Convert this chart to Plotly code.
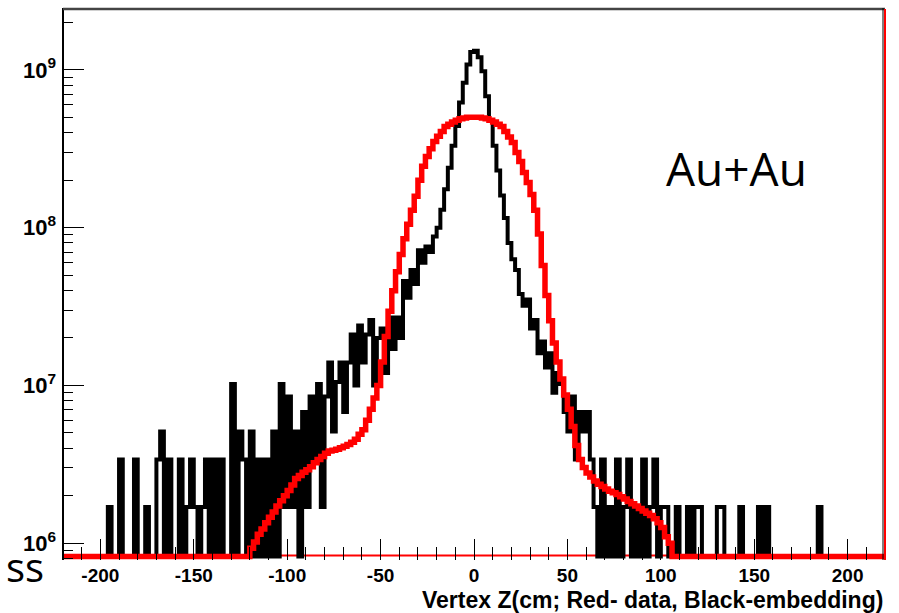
import plotly.graph_objects as go

# ---------------- data ----------------
# 220 bins of 2 cm from -220 cm to 220 cm
z_low, z_high, n_bins = -220.0, 220.0, 220

# Black: embedding (0 = empty bin)
embedding = [
    0, 0, 0, 0, 0, 0, 0, 0, 0, 0,
    0, 0, 1.7e6, 0, 0, 3.4e6, 0, 0, 0, 3.4e6,
    0, 0, 1.7e6, 0, 0, 3.4e6, 5.1e6, 0, 3.4e6, 0,
    0, 3.4e6, 0, 1.7e6, 3.4e6, 1.7e6, 0, 1.7e6, 3.4e6, 0,
    3.4e6, 0, 3.4e6, 0, 0, 1.02e7, 0, 5.1e6, 3.4e6, 0,
    5.1e6, 0, 3.4e6, 0, 3.4e6, 0, 5.1e6, 0, 1.02e7, 1.7e6,
    8.5e6, 1.7e6, 5.1e6, 0, 6.8e6, 1.7e6, 8.5e6, 3.4e6, 1.02e7, 1.7e6,
    8.5e6, 1.4e7, 5.1e6, 1.05e7, 1.4e7, 6.8e6, 1.4e7, 2.1e7, 1.0e7, 2.4e7,
    1.4e7, 2.1e7, 2.6e7, 1.0e7, 2.0e7, 2.3e7, 1.2e7, 2.7e7, 1.7e7, 2.7e7,
    2.0e7, 4.6e7, 3.6e7, 5.4e7, 4.4e7, 7.2e7, 6.0e7, 7.6e7, 7.0e7, 8.8e7,
    1.0e8, 1.3e8, 1.75e8, 2.4e8, 3.3e8, 4.4e8, 6.2e8, 8.3e8, 1.08e9, 1.3e9,
    1.32e9, 1.2e9, 9.8e8, 6.8e8, 4.8e8, 3.3e8, 2.3e8, 1.6e8, 1.15e8, 8.0e7,
    6.3e7, 5.4e7, 3.8e7, 3.2e7, 3.5e7, 2.3e7, 2.6e7, 1.6e7, 1.9e7, 1.3e7,
    1.6e7, 9.0e6, 1.2e7, 1.02e7, 6.8e6, 5.1e6, 8.5e6, 3.4e6, 6.8e6, 5.1e6,
    6.8e6, 3.4e6, 1.7e6, 0, 3.4e6, 0, 1.7e6, 0, 3.4e6, 0,
    1.7e6, 3.4e6, 0, 1.7e6, 0, 3.4e6, 0, 1.7e6, 3.4e6, 0,
    1.7e6, 1.7e6, 0, 0, 1.7e6, 0, 0, 1.7e6, 0, 1.7e6,
    1.7e6, 0, 0, 0, 0, 1.7e6, 1.7e6, 0, 0, 0,
    0, 1.7e6, 0, 0, 0, 0, 1.7e6, 0, 1.7e6, 0,
    0, 0, 0, 0, 0, 0, 0, 0, 0, 0,
    0, 0, 1.7e6, 0, 0, 0, 0, 0, 0, 0,
    0, 0, 0, 0, 0, 0, 0, 0, 0, 0,
]

# Red: data
data_red = [
    0, 0, 0, 0, 0, 0, 0, 0, 0, 0,
    0, 0, 0, 0, 0, 0, 0, 0, 0, 0,
    0, 0, 0, 0, 0, 0, 0, 0, 0, 0,
    0, 0, 0, 0, 0, 0, 0, 0, 0, 0,
    0, 0, 0, 0, 0, 0, 0, 0, 0, 0,
    9.3e5, 1.02e6, 1.14e6, 1.23e6, 1.35e6, 1.46e6, 1.58e6, 1.72e6, 1.86e6, 2.0e6,
    2.16e6, 2.34e6, 2.57e6, 2.69e6, 2.82e6, 2.92e6, 3.05e6, 3.24e6, 3.39e6, 3.55e6,
    3.72e6, 3.85e6, 3.89e6, 3.94e6, 4.03e6, 4.12e6, 4.22e6, 4.37e6, 4.57e6, 4.90e6,
    5.25e6, 6.03e6, 7.08e6, 8.32e6, 1.0e7, 1.41e7, 2.04e7, 2.95e7, 3.98e7, 5.25e7,
    6.76e7, 8.51e7, 1.05e8, 1.29e8, 1.58e8, 2.0e8, 2.45e8, 2.82e8, 3.16e8, 3.51e8,
    3.80e8, 4.07e8, 4.37e8, 4.52e8, 4.68e8, 4.79e8, 4.90e8, 4.95e8, 5.01e8, 5.01e8,
    5.01e8, 5.01e8, 4.95e8, 4.90e8, 4.79e8, 4.68e8, 4.52e8, 4.37e8, 4.07e8, 3.76e8,
    3.47e8, 2.99e8, 2.63e8, 2.24e8, 1.93e8, 1.62e8, 1.29e8, 9.12e7, 5.75e7, 3.72e7,
    2.57e7, 1.86e7, 1.41e7, 1.10e7, 8.71e6, 7.08e6, 5.50e6, 4.17e6, 3.39e6, 3.02e6,
    2.79e6, 2.63e6, 2.48e6, 2.37e6, 2.29e6, 2.21e6, 2.14e6, 2.09e6, 2.04e6, 1.97e6,
    1.91e6, 1.84e6, 1.78e6, 1.72e6, 1.66e6, 1.60e6, 1.55e6, 1.50e6, 1.43e6, 1.35e6,
    1.26e6, 1.10e6, 1.0e6, 0, 0, 0, 0, 0, 0, 0,
    0, 0, 0, 0, 0, 0, 0, 0, 0, 0,
    0, 0, 0, 0, 0, 0, 0, 0, 0, 0,
    0, 0, 0, 0, 0, 0, 0, 0, 0, 0,
    0, 0, 0, 0, 0, 0, 0, 0, 0, 0,
    0, 0, 0, 0, 0, 0, 0, 0, 0, 0,
]

x_tick_vals = [-200, -150, -100, -50, 0, 50, 100, 150, 200]
x_tick_text = ["-200", "-150", "-100", "-50", "0", "50", "100", "150", "200"]
y_tick_vals = [1e6, 1e7, 1e8, 1e9]
y_tick_text = ["10<sup>6</sup>", "10<sup>7</sup>", "10<sup>8</sup>", "10<sup>9</sup>"]
x_title = "Vertex Z(cm; Red- data, Black-embedding)"
label_text = "Au+Au"
cut_text = "ss"

# ---------------- geometry / style ----------------
Y_LOG_RANGE = [5.894, 9.392]
FLOOR = 10 ** 5.916  # empty bins are drawn at the frame bottom (ROOT style)

edges = [z_low + (z_high - z_low) * k / n_bins for k in range(n_bins + 1)]


def steps(vals):
    ys = [v if v > 0 else FLOOR for v in vals]
    return edges, ys + [ys[-1]]


fig = go.Figure()
bx, by = steps(embedding)
fig.add_trace(go.Scatter(x=bx, y=by, mode="lines", line=dict(color="black", width=4, shape="hv"),
                         showlegend=False, hoverinfo="skip"))
rx, ry = steps(data_red)
fig.add_trace(go.Scatter(x=rx, y=ry, mode="lines", line=dict(color="#ff0000", width=5.5, shape="hv"),
                         showlegend=False, hoverinfo="skip"))

tick_font = dict(family="Liberation Sans, Arial, sans-serif", size=19, color="black", weight="bold")

fig.update_layout(
    width=899, height=613,
    margin=dict(l=63, r=14, t=8, b=53),
    paper_bgcolor="white", plot_bgcolor="white",
    showlegend=False,
    xaxis=dict(
        range=[z_low, z_high], showgrid=False, zeroline=False, showline=False,
        tickvals=x_tick_vals, ticktext=x_tick_text, ticks="inside", ticklen=21, tickwidth=1.3,
        tickcolor="black", tickfont=tick_font, ticklabelstandoff=2,
        minor=dict(dtick=10, tick0=0, ticks="inside", ticklen=13, tickwidth=1.2, tickcolor="black", showgrid=False),
    ),
    yaxis=dict(
        type="log", range=Y_LOG_RANGE, showgrid=False, zeroline=False, showline=False,
        tickvals=y_tick_vals, ticktext=y_tick_text, ticks="inside", ticklen=21, tickwidth=1.3,
        tickcolor="black", tickfont=dict(family="Liberation Sans, Arial, sans-serif", size=22,
                                         color="black", weight="bold"),
        ticklabelstandoff=6,
        minor=dict(dtick="D1", ticks="inside", ticklen=10, tickwidth=1.2, tickcolor="black", showgrid=False),
    ),
)

H = 552.0  # plot height in px
shapes = [
    dict(type="line", xref="paper", yref="paper", x0=0, x1=0, y0=0, y1=1, line=dict(color="black", width=2), layer="above"),
    dict(type="line", xref="paper", yref="paper", x0=0, x1=1, y0=1 - 1 / H, y1=1 - 1 / H, line=dict(color="#444444", width=2.5), layer="above"),
    dict(type="line", xref="paper", yref="paper", x0=0, x1=1, y0=4.5 / H, y1=4.5 / H, line=dict(color="#ff0000", width=2), layer="below"),
    dict(type="line", xref="paper", yref="paper", x0=1 - 2 / 822, x1=1 - 2 / 822, y0=0, y1=1, line=dict(color="black", width=1), layer="above"),
    dict(type="line", xref="paper", yref="paper", x0=1, x1=1, y0=0, y1=1 - 1 / H, line=dict(color="#ff0000", width=2), layer="above"),
]
fig.update_layout(shapes=shapes)

fig.add_annotation(text=x_title, xref="paper", yref="paper", x=1.0, y=(560 - 600) / H,
                   xanchor="right", yanchor="middle", showarrow=False,
                   font=dict(family="Liberation Sans, Arial, sans-serif", size=23, color="black", weight="bold"))
fig.add_annotation(text=label_text, xref="paper", yref="paper", x=(736 - 63) / 822, y=(560 - 168) / H,
                   xanchor="center", yanchor="middle", showarrow=False,
                   font=dict(family="Open Sans, sans-serif", size=46, color="black"))
fig.add_annotation(text=cut_text, xref="paper", yref="paper", x=(46 - 63) / 822, y=(560 - 566) / H,
                   xanchor="right", yanchor="middle", showarrow=False,
                   font=dict(family="Open Sans, sans-serif", size=40, color="black"))

fig.write_html("out.html")
